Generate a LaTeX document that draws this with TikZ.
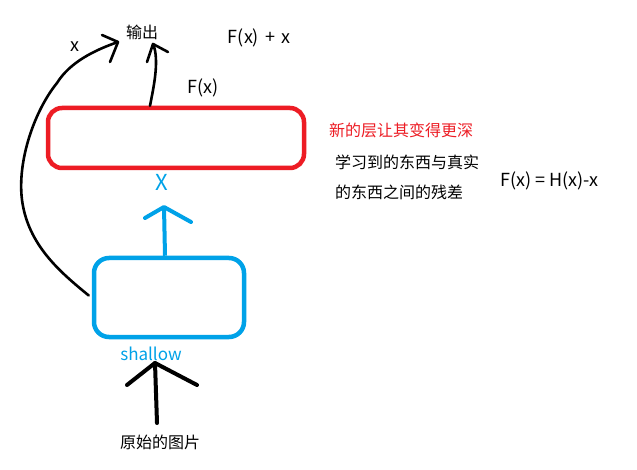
\documentclass[tikz,border=0pt]{standalone}
\usepackage{fontspec}
\setmainfont{Noto Sans CJK SC}
\definecolor{pred}{RGB}{237,28,36}
\definecolor{pblue}{RGB}{0,162,232}
\begin{document}
\begin{tikzpicture}[x=1pt,y=-1pt,
  txt/.style={inner sep=0pt,font=\fontsize{16}{18}\selectfont},
  lat/.style={inner sep=0pt,font=\fontsize{18}{20}\selectfont},
  pen/.style={line width=2.6pt,line cap=round,line join=round},
  thickpen/.style={line width=4pt,line cap=round,line join=round}]
\useasboundingbox[fill=white] (0,0) rectangle (637,470);
% boxes
\node[draw=pred,line width=4.5pt,rounded corners=14pt,minimum width=256pt,minimum height=60pt,inner sep=0pt] (red) at (176,138) {};
\node[draw=pblue,line width=4.5pt,rounded corners=15pt,minimum width=150pt,minimum height=79pt,inner sep=0pt] (blue) at (169,297.5) {};
% texts
\node[txt] (out) at (142,32) {输出};
\node[lat] (fxpx) at (259,38) {F(x)\,\,+\,\,x};
\node[lat] (xl) at (75,47) {x};
\node[lat] (fx) at (203,88) {F(x)};
\node[txt,text=pred,anchor=west] (deep) at (329,130) {新的层让其变得更深};
\node[txt,anchor=west] (l1) at (335,162) {学习到的东西与真实};
\node[txt,anchor=west] (l2) at (335,192) {的东西之间的残差};
\node[lat,anchor=west] (eq) at (500,181) {F(x) = H(x)-x};
\node[txt,text=pblue,font=\fontsize{22}{24}\selectfont] (X) at (162,182) {X};
\node[txt,text=pblue,font=\fontsize{17}{19}\selectfont] (sh) at (151,354) {shallow};
\node[txt] (img) at (160,442) {原始的图片};
% skip connection
\coordinate (t1) at (118,42);
\draw[pen] (blue.west) ++(-3,-2) .. controls (60,272) and (28,245) .. (22,200)
  .. controls (17,160) and (35,110) .. (57,83)
  .. controls (70,62) and (95,50) .. (t1);
\draw[pen] (102,35) -- (t1) -- (110,62);
% F(x) arrow
\coordinate (t2) at (153,44);
\draw[pen] (red.north -| 150,0) .. controls (153,90) and (160,60) .. (t2);
\draw[pen] (147,62) -- (t2) -- (168,52);
% blue arrow
\coordinate (t3) at (164,207);
\draw[thickpen,pblue,line cap=butt] (blue.north -| 165,0) -- (t3);
\draw[thickpen,pblue] (145,218) -- (t3) -- (191,222);
% bottom arrow
\coordinate (t4) at (155,363);
\coordinate (b4) at (157,423);
\draw[thickpen] (b4) -- (t4);
\draw[thickpen] (127,385) -- (t4) -- (197,385);
\end{tikzpicture}
\end{document}
